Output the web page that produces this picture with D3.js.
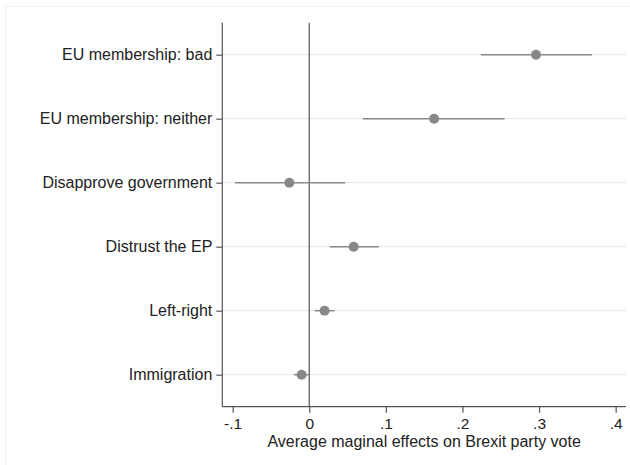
<!DOCTYPE html>
<html>
<head>
<meta charset="utf-8">
<script src="https://cdn.jsdelivr.net/npm/d3@7"></script>
<style>
  body { margin: 0; background: #fff; }
  svg { display: block; font-family: "Liberation Sans", Arial, sans-serif; }
</style>
</head>
<body>
<div id="graph_container"></div>
<script>
// chart values
var labels = ["EU membership: bad", "EU membership: neither", "Disapprove government",
              "Distrust the EP", "Left-right", "Immigration"];
var estimates = [0.296, 0.163, -0.026, 0.058, 0.020, -0.010];
var lower = [0.224, 0.070, -0.097, 0.027, 0.007, -0.020];
var upper = [0.369, 0.255, 0.047, 0.091, 0.033, 0.000];
var xTicks = [-0.1, 0, 0.1, 0.2, 0.3, 0.4];
var xTickLabels = ["-.1", "0", ".1", ".2", ".3", ".4"];

var W = 630, H = 465;
var plotL = 222.3, plotR = 626, plotT = 22.7, plotB = 406.7;

var vis = d3.select("#graph_container")
    .append("svg")
    .attr("width", W).attr("height", H);

// faint outer frame
vis.append("rect")
    .attr("x", 5.5).attr("y", 6.5)
    .attr("width", W).attr("height", H)
    .attr("fill", "none").attr("stroke", "#f2f2f2");

var x = d3.scaleLinear().domain([-0.1135, 0.4135]).range([plotL, plotR]);
var y = d3.scalePoint().domain(labels).range([plotT, plotB]).padding(0.5);

var rows = labels.map(function(d, i) {
    return {label: d, est: estimates[i], lo: lower[i], hi: upper[i]};
});

// gridlines
vis.selectAll("line.grid")
    .data(labels)
    .enter().append("line")
    .attr("class", "grid")
    .attr("x1", plotL).attr("x2", plotR)
    .attr("y1", function(d) { return y(d); })
    .attr("y2", function(d) { return y(d); })
    .style("stroke", "#eaeaea")
    .style("stroke-width", 1.2);

// zero line
vis.append("line")
    .attr("x1", x(0)).attr("x2", x(0))
    .attr("y1", plotT).attr("y2", plotB)
    .style("stroke", "#555")
    .style("stroke-width", 1.2);

// confidence intervals
vis.selectAll("line.ci")
    .data(rows)
    .enter().append("line")
    .attr("class", "ci")
    .attr("x1", function(d) { return x(d.lo); })
    .attr("x2", function(d) { return x(d.hi); })
    .attr("y1", function(d) { return y(d.label); })
    .attr("y2", function(d) { return y(d.label); })
    .style("stroke", "#8a8a8a")
    .style("stroke-width", 1.5);

// point estimates
vis.selectAll("circle.pt")
    .data(rows)
    .enter().append("circle")
    .attr("class", "pt")
    .attr("cx", function(d) { return x(d.est); })
    .attr("cy", function(d) { return y(d.label); })
    .attr("r", 5)
    .attr("fill", "#888");

// y axis
var yAxis = vis.append("g")
    .attr("transform", "translate(" + plotL + ",0)")
    .call(d3.axisLeft(y).tickSize(6).tickPadding(4));

// x axis
var xAxis = vis.append("g")
    .attr("transform", "translate(0," + plotB + ")")
    .call(d3.axisBottom(x).tickValues(xTicks)
        .tickFormat(function(d, i) { return xTickLabels[i]; })
        .tickSize(6).tickPadding(5.5));

[yAxis, xAxis].forEach(function(g) {
    g.select(".domain").style("stroke", "#555").style("stroke-width", 1.2);
    g.selectAll(".tick line").style("stroke", "#555").style("stroke-width", 1.2);
    g.selectAll(".tick text")
        .style("font-family", "Liberation Sans, Arial, sans-serif")
        .style("font-size", "16px")
        .style("fill", "#222");
});
xAxis.selectAll(".tick text").style("font-size", "15.5px");
yAxis.select(".domain").attr("d", "M0," + plotT + "V" + plotB);
xAxis.select(".domain").attr("d", "M" + plotL + ",0H" + plotR);

// x axis title
vis.append("text")
    .attr("x", (plotL + plotR) / 2)
    .attr("y", 447)
    .attr("text-anchor", "middle")
    .style("font-size", "16px")
    .style("fill", "#222")
    .text("Average maginal effects on Brexit party vote");
</script>
</body>
</html>
